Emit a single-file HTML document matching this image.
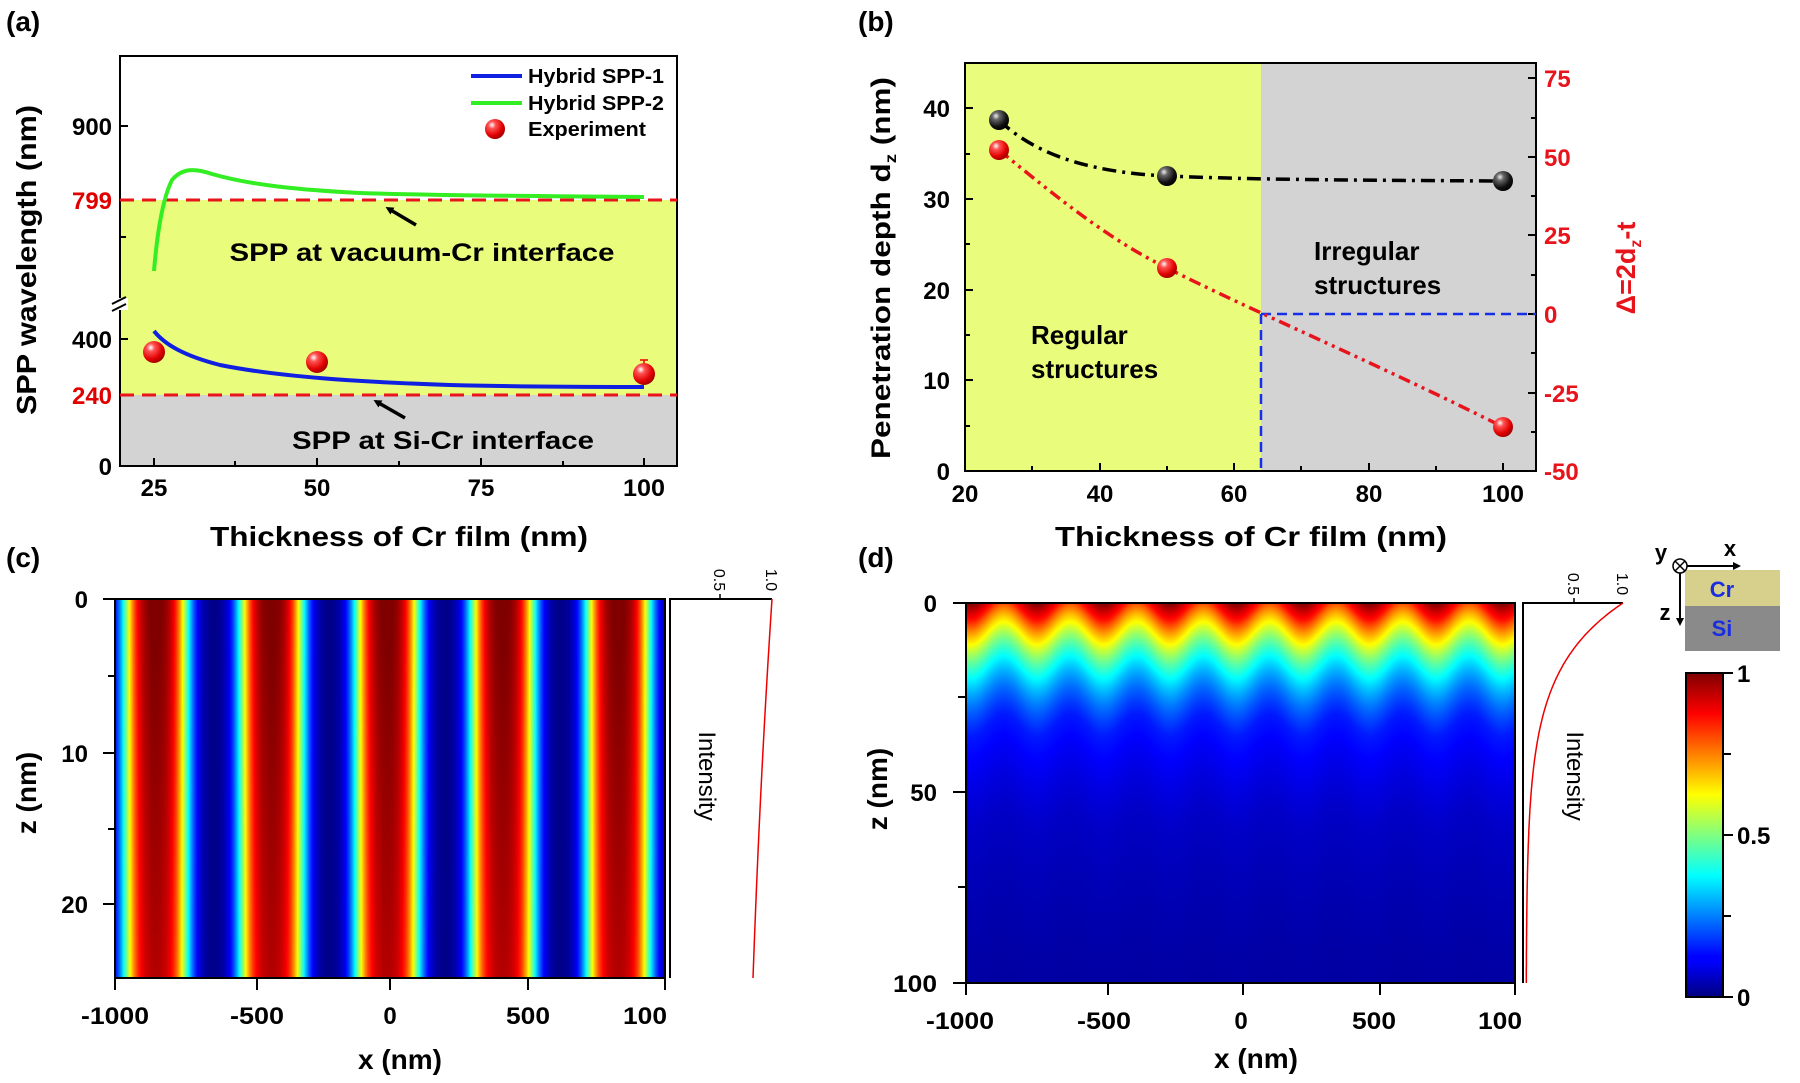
<!DOCTYPE html>
<html><head><meta charset="utf-8"><style>
html,body{margin:0;padding:0;background:#fff}
#w{position:relative;width:1800px;height:1083px;overflow:hidden}
canvas{position:absolute}
svg{position:absolute;left:0;top:0}
text{font-family:"Liberation Sans Narrow","Liberation Sans",sans-serif;font-weight:bold}
.w{font-family:"Liberation Sans",sans-serif}
</style></head><body><div id="w">
<canvas id="c1" width="550" height="379" style="left:115px;top:599px"></canvas>
<canvas id="c2" width="549" height="380" style="left:966px;top:603px"></canvas>
<svg width="1800" height="1083" viewBox="0 0 1800 1083">
<defs>
<radialGradient id="rs" cx="0.35" cy="0.3" r="0.75"><stop offset="0" stop-color="#fff"/><stop offset="0.25" stop-color="#ff5050"/><stop offset="0.7" stop-color="#e00000"/><stop offset="1" stop-color="#900"/></radialGradient>
<radialGradient id="bs" cx="0.35" cy="0.3" r="0.75"><stop offset="0" stop-color="#eee"/><stop offset="0.25" stop-color="#666"/><stop offset="0.7" stop-color="#111"/><stop offset="1" stop-color="#000"/></radialGradient>
<linearGradient id="jet" x1="0" y1="1" x2="0" y2="0">
<stop offset="0" stop-color="#00007f"/><stop offset="0.11" stop-color="#0000ff"/><stop offset="0.125" stop-color="#0000ff"/><stop offset="0.375" stop-color="#00ffff"/><stop offset="0.625" stop-color="#ffff00"/><stop offset="0.875" stop-color="#ff0000"/><stop offset="1" stop-color="#7f0000"/></linearGradient>
<marker id="ah" markerWidth="8" markerHeight="8" refX="4" refY="4" orient="auto" markerUnits="userSpaceOnUse"><path d="M0,0 L8,4 L0,8 z" fill="#000"/></marker>
</defs>

<!-- ===== (a) ===== -->
<text x="6" y="31" font-size="28" class="w">(a)</text>
<rect x="120" y="200" width="557" height="195" fill="#eafc7c"/>
<rect x="120" y="395" width="557" height="71" fill="#d3d3d3"/>
<rect x="120" y="56" width="557" height="410" fill="none" stroke="#000" stroke-width="2"/>
<rect x="112" y="298" width="16" height="12" fill="#fff"/>
<line x1="112" y1="304" x2="126" y2="297" stroke="#000" stroke-width="2"/>
<line x1="112" y1="311" x2="126" y2="304" stroke="#000" stroke-width="2"/>
<g stroke="#000" stroke-width="2">
<line x1="120" y1="126" x2="128" y2="126"/><line x1="120" y1="237" x2="126" y2="237"/>
<line x1="120" y1="339" x2="128" y2="339"/><line x1="120" y1="395" x2="128" y2="395"/>
<line x1="154" y1="466" x2="154" y2="458"/><line x1="317" y1="466" x2="317" y2="458"/><line x1="481" y1="466" x2="481" y2="458"/><line x1="644" y1="466" x2="644" y2="458"/>
<line x1="235" y1="466" x2="235" y2="461"/><line x1="399" y1="466" x2="399" y2="461"/><line x1="563" y1="466" x2="563" y2="461"/>
</g>
<g font-size="24" text-anchor="end">
<text x="112" y="135" textLength="40" lengthAdjust="spacingAndGlyphs">900</text><text x="112" y="209" fill="#e00000" textLength="40" lengthAdjust="spacingAndGlyphs">799</text>
<text x="112" y="348" textLength="40" lengthAdjust="spacingAndGlyphs">400</text><text x="112" y="404" fill="#e00000" textLength="40" lengthAdjust="spacingAndGlyphs">240</text><text x="112" y="475">0</text>
</g>
<g font-size="24" text-anchor="middle">
<text x="154" y="496">25</text><text x="317" y="496">50</text><text x="481" y="496">75</text><text x="644" y="496" textLength="42" lengthAdjust="spacingAndGlyphs">100</text>
</g>
<text transform="translate(36,260) rotate(-90)" font-size="28" text-anchor="middle" class="w" textLength="310" lengthAdjust="spacingAndGlyphs">SPP wavelength (nm)</text>
<text x="399" y="546" font-size="28" text-anchor="middle" textLength="378" lengthAdjust="spacingAndGlyphs">Thickness of Cr film (nm)</text>
<line x1="120" y1="200" x2="677" y2="200" stroke="#e8141c" stroke-width="3" stroke-dasharray="14,8"/>
<line x1="120" y1="395" x2="677" y2="395" stroke="#e8141c" stroke-width="3" stroke-dasharray="14,8"/>
<path d="M154,271 C157,235 162,200 172,180 C182,168 195,168 212,174 C250,185 300,190 360,193 C450,196 550,196 644,197" fill="none" stroke="#33ee22" stroke-width="4"/>
<path d="M154,331 C165,345 185,356 220,365 C280,377 360,382 450,385 C530,387 600,387 644,387" fill="none" stroke="#1020e0" stroke-width="4"/>
<line x1="644" y1="360" x2="644" y2="373" stroke="#e00" stroke-width="1.5"/><line x1="640" y1="360" x2="648" y2="360" stroke="#e00" stroke-width="1.5"/>
<circle cx="154" cy="352" r="11" fill="url(#rs)"/><circle cx="317" cy="362" r="11" fill="url(#rs)"/><circle cx="644" cy="374" r="11" fill="url(#rs)"/>
<line x1="471" y1="76" x2="522" y2="76" stroke="#1020e0" stroke-width="4"/>
<line x1="471" y1="103" x2="522" y2="103" stroke="#33ee22" stroke-width="4"/>
<circle cx="495" cy="129" r="10" fill="url(#rs)"/>
<g font-size="20"><text x="528" y="83" textLength="136" lengthAdjust="spacingAndGlyphs">Hybrid SPP-1</text><text x="528" y="110" textLength="136" lengthAdjust="spacingAndGlyphs">Hybrid SPP-2</text><text x="528" y="136" textLength="118" lengthAdjust="spacingAndGlyphs">Experiment</text></g>
<text x="422" y="261" font-size="25" text-anchor="middle" textLength="385" lengthAdjust="spacingAndGlyphs">SPP at vacuum-Cr interface</text>
<text x="443" y="449" font-size="25" text-anchor="middle" textLength="302" lengthAdjust="spacingAndGlyphs">SPP at Si-Cr interface</text>
<line x1="416" y1="225" x2="389" y2="209" stroke="#000" stroke-width="3.5" marker-end="url(#ah)"/>
<line x1="405" y1="418" x2="377" y2="402" stroke="#000" stroke-width="3.5" marker-end="url(#ah)"/>

<!-- ===== (b) ===== -->
<text x="858" y="31" font-size="28" class="w">(b)</text>
<rect x="965" y="63" width="296" height="408" fill="#eafc7c"/>
<rect x="1261" y="63" width="275" height="408" fill="#d3d3d3"/>
<rect x="965" y="63" width="571" height="408" fill="none" stroke="#000" stroke-width="2"/>
<g stroke="#000" stroke-width="2">
<line x1="965" y1="471" x2="973" y2="471"/><line x1="965" y1="380" x2="973" y2="380"/><line x1="965" y1="290" x2="973" y2="290"/><line x1="965" y1="199" x2="973" y2="199"/><line x1="965" y1="108" x2="973" y2="108"/>
<line x1="965" y1="426" x2="970" y2="426"/><line x1="965" y1="335" x2="970" y2="335"/><line x1="965" y1="244" x2="970" y2="244"/><line x1="965" y1="154" x2="970" y2="154"/>
<line x1="1536" y1="78" x2="1528" y2="78"/><line x1="1536" y1="157" x2="1528" y2="157"/><line x1="1536" y1="235" x2="1528" y2="235"/><line x1="1536" y1="314" x2="1528" y2="314"/><line x1="1536" y1="393" x2="1528" y2="393"/><line x1="1536" y1="471" x2="1528" y2="471"/>
<line x1="1536" y1="118" x2="1531" y2="118"/><line x1="1536" y1="196" x2="1531" y2="196"/><line x1="1536" y1="275" x2="1531" y2="275"/><line x1="1536" y1="353" x2="1531" y2="353"/><line x1="1536" y1="432" x2="1531" y2="432"/>
<line x1="1100" y1="471" x2="1100" y2="463"/><line x1="1234" y1="471" x2="1234" y2="463"/><line x1="1369" y1="471" x2="1369" y2="463"/><line x1="1503" y1="471" x2="1503" y2="463"/>
<line x1="1032" y1="471" x2="1032" y2="466"/><line x1="1167" y1="471" x2="1167" y2="466"/><line x1="1301" y1="471" x2="1301" y2="466"/><line x1="1436" y1="471" x2="1436" y2="466"/>
</g>
<g font-size="24" text-anchor="end">
<text x="950" y="117">40</text><text x="950" y="208">30</text><text x="950" y="299">20</text><text x="950" y="389">10</text><text x="950" y="480">0</text>
</g>
<g font-size="24" fill="#e8141c">
<text x="1544" y="87">75</text><text x="1544" y="166">50</text><text x="1544" y="244">25</text><text x="1544" y="323">0</text><text x="1544" y="402">-25</text><text x="1544" y="480">-50</text>
</g>
<g font-size="24" text-anchor="middle">
<text x="965" y="502">20</text><text x="1100" y="502">40</text><text x="1234" y="502">60</text><text x="1369" y="502">80</text><text x="1503" y="502" textLength="42" lengthAdjust="spacingAndGlyphs">100</text>
</g>
<text transform="translate(890,268) rotate(-90)" font-size="27" text-anchor="middle" class="w" textLength="382" lengthAdjust="spacingAndGlyphs">Penetration depth d<tspan font-size="16" dy="6">z</tspan><tspan dy="-6"> (nm)</tspan></text>
<text transform="translate(1635,268) rotate(-90)" font-size="27" text-anchor="middle" fill="#e8141c" class="w">Δ=2d<tspan font-size="16" dy="6">z</tspan><tspan dy="-6">-t</tspan></text>
<text x="1251" y="546" font-size="28" text-anchor="middle" textLength="392" lengthAdjust="spacingAndGlyphs">Thickness of Cr film (nm)</text>
<text x="1314" y="260" font-size="26">Irregular</text><text x="1314" y="294" font-size="26">structures</text>
<text x="1031" y="344" font-size="26">Regular</text><text x="1031" y="378" font-size="26">structures</text>
<line x1="1261" y1="314" x2="1536" y2="314" stroke="#1530e8" stroke-width="2.5" stroke-dasharray="10,6"/>
<line x1="1261" y1="314" x2="1261" y2="471" stroke="#1530e8" stroke-width="2.5" stroke-dasharray="10,6"/>
<path d="M999,120 C1030,150 1080,172 1167,176 C1240,179 1300,180 1503,181" fill="none" stroke="#000" stroke-width="3.5" stroke-dasharray="14,6,3,6"/>
<path d="M999,150 C1060,200 1110,240 1167,268 C1250,310 1380,365 1503,427" fill="none" stroke="#e8141c" stroke-width="3.5" stroke-dasharray="12,5,3,5,3,5"/>
<circle cx="999" cy="120" r="10" fill="url(#bs)"/><circle cx="1167" cy="176" r="10" fill="url(#bs)"/><circle cx="1503" cy="181" r="10" fill="url(#bs)"/>
<circle cx="999" cy="150" r="10" fill="url(#rs)"/><circle cx="1167" cy="268" r="10" fill="url(#rs)"/><circle cx="1503" cy="427" r="10" fill="url(#rs)"/>

<!-- ===== (c) ===== -->
<text x="6" y="567" font-size="28" class="w">(c)</text>
<rect x="115" y="599" width="550" height="379" fill="none" stroke="#000" stroke-width="2"/>
<g stroke="#000" stroke-width="2">
<line x1="103" y1="599" x2="115" y2="599"/><line x1="103" y1="753" x2="115" y2="753"/><line x1="103" y1="904" x2="115" y2="904"/>
<line x1="108" y1="676" x2="115" y2="676"/><line x1="108" y1="829" x2="115" y2="829"/>
<line x1="115" y1="978" x2="115" y2="990"/><line x1="257" y1="978" x2="257" y2="990"/><line x1="390" y1="978" x2="390" y2="990"/><line x1="528" y1="978" x2="528" y2="990"/><line x1="665" y1="978" x2="665" y2="990"/>
</g>
<g font-size="24" text-anchor="end"><text x="88" y="608">0</text><text x="88" y="762">10</text><text x="88" y="913">20</text></g>
<g font-size="24" text-anchor="middle"><text x="115" y="1024" textLength="68" lengthAdjust="spacingAndGlyphs">-1000</text><text x="257" y="1024" textLength="54" lengthAdjust="spacingAndGlyphs">-500</text><text x="390" y="1024">0</text><text x="528" y="1024" textLength="44" lengthAdjust="spacingAndGlyphs">500</text><text x="645" y="1024" textLength="44" lengthAdjust="spacingAndGlyphs">100</text></g>
<text transform="translate(36,793) rotate(-90)" font-size="28" text-anchor="middle" class="w">z (nm)</text>
<text x="400" y="1069" font-size="28" text-anchor="middle">x (nm)</text>
<polyline points="772,599 670,599 670,978" fill="none" stroke="#000" stroke-width="2"/>
<line x1="720" y1="599" x2="720" y2="594" stroke="#000" stroke-width="1.5"/>
<text transform="translate(714,580) rotate(90)" font-size="16" text-anchor="middle" class="w" style="font-weight:normal">0.5</text>
<text transform="translate(766,580) rotate(90)" font-size="16" text-anchor="middle" class="w" style="font-weight:normal">1.0</text>
<path d="M772,599 Q760,780 753,978" fill="none" stroke="#e00" stroke-width="1.5"/>
<text transform="translate(699,776) rotate(90)" font-size="24" text-anchor="middle" class="w" style="font-weight:normal">Intensity</text>

<!-- ===== (d) ===== -->
<text x="858" y="567" font-size="28" class="w">(d)</text>
<rect x="966" y="603" width="549" height="380" fill="none" stroke="#000" stroke-width="2"/>
<g stroke="#000" stroke-width="2">
<line x1="953" y1="603" x2="966" y2="603"/><line x1="953" y1="792" x2="966" y2="792"/><line x1="953" y1="983" x2="966" y2="983"/>
<line x1="958" y1="697" x2="966" y2="697"/><line x1="958" y1="887" x2="966" y2="887"/>
<line x1="966" y1="983" x2="966" y2="995"/><line x1="1108" y1="983" x2="1108" y2="995"/><line x1="1243" y1="983" x2="1243" y2="995"/><line x1="1380" y1="983" x2="1380" y2="995"/><line x1="1515" y1="983" x2="1515" y2="995"/>
</g>
<g font-size="24" text-anchor="end"><text x="937" y="612">0</text><text x="937" y="801">50</text><text x="937" y="992" textLength="44" lengthAdjust="spacingAndGlyphs">100</text></g>
<g font-size="24" text-anchor="middle"><text x="960" y="1029" textLength="68" lengthAdjust="spacingAndGlyphs">-1000</text><text x="1104" y="1029" textLength="54" lengthAdjust="spacingAndGlyphs">-500</text><text x="1241" y="1029">0</text><text x="1374" y="1029" textLength="44" lengthAdjust="spacingAndGlyphs">500</text><text x="1500" y="1029" textLength="44" lengthAdjust="spacingAndGlyphs">100</text></g>
<text transform="translate(887,789) rotate(-90)" font-size="28" text-anchor="middle" class="w">z (nm)</text>
<text x="1256" y="1068" font-size="28" text-anchor="middle">x (nm)</text>
<polyline points="1623,603 1523,603 1523,983" fill="none" stroke="#000" stroke-width="2"/>
<line x1="1574" y1="603" x2="1574" y2="598" stroke="#000" stroke-width="1.5"/>
<text transform="translate(1568,584) rotate(90)" font-size="16" text-anchor="middle" class="w" style="font-weight:normal">0.5</text>
<text transform="translate(1617,584) rotate(90)" font-size="16" text-anchor="middle" class="w" style="font-weight:normal">1.0</text>
<path id="dcurve" d="" fill="none" stroke="#e00" stroke-width="1.5"/>
<text transform="translate(1567,776) rotate(90)" font-size="24" text-anchor="middle" class="w" style="font-weight:normal">Intensity</text>

<!-- inset -->
<rect x="1685" y="570" width="95" height="36" fill="#d6d08c"/>
<rect x="1685" y="606" width="95" height="45" fill="#8a8a8a"/>
<text x="1722" y="597" font-size="22" text-anchor="middle" fill="#1a2ee0">Cr</text>
<text x="1722" y="636" font-size="22" text-anchor="middle" fill="#1a2ee0">Si</text>
<circle cx="1680" cy="566" r="7" fill="#fff" stroke="#000" stroke-width="1.5"/>
<path d="M1675,561 L1685,571 M1685,561 L1675,571" stroke="#000" stroke-width="1.5"/>
<line x1="1687" y1="566" x2="1737" y2="566" stroke="#000" stroke-width="2" marker-end="url(#ah)"/>
<line x1="1680" y1="573" x2="1680" y2="622" stroke="#000" stroke-width="2" marker-end="url(#ah)"/>
<text x="1730" y="556" font-size="22" text-anchor="middle" class="w">x</text>
<text x="1661" y="560" font-size="22" text-anchor="middle" class="w">y</text>
<text x="1665" y="620" font-size="22" text-anchor="middle" class="w">z</text>
<!-- colorbar -->
<rect x="1686" y="673" width="37" height="324" fill="url(#jet)" stroke="#000" stroke-width="2"/>
<g stroke="#000" stroke-width="2"><line x1="1723" y1="673" x2="1733" y2="673"/><line x1="1723" y1="754" x2="1731" y2="754"/><line x1="1723" y1="835" x2="1733" y2="835"/><line x1="1723" y1="916" x2="1731" y2="916"/><line x1="1723" y1="997" x2="1733" y2="997"/></g>
<g font-size="24"><text x="1737" y="682">1</text><text x="1737" y="844">0.5</text><text x="1737" y="1006">0</text></g>
</svg>
</div>
<script>
function jet(t){t=Math.max(0,Math.min(1,t));function c(v){return Math.max(0,Math.min(1,v));}
return [c(1.5-Math.abs(4*t-3))*255,c(1.5-Math.abs(4*t-2))*255,c(1.5-Math.abs(4*t-1))*255];}
(function(){var cv=document.getElementById('c1'),ctx=cv.getContext('2d'),W=cv.width,H=cv.height,im=ctx.createImageData(W,H);
var k=1.3,n=Math.tanh(k);
for(var x=0;x<W;x++){var px=115+x;var c=Math.cos(2*Math.PI*(px-155.5)/115.6);var I=0.5+0.5*Math.tanh(k*(c+0.05))/n;
for(var y=0;y<H;y++){var v=I*(1-0.06*y/H);var col=jet(v);var i=(y*W+x)*4;im.data[i]=col[0];im.data[i+1]=col[1];im.data[i+2]=col[2];im.data[i+3]=255;}}
ctx.putImageData(im,0,0);})();
var UZ=[0,4.7,11,21,35,60,100,120],UV=[1,0.85,0.62,0.35,0.15,0.07,0.035,0.03];
function U(z){for(var i=0;i<UZ.length-1;i++){if(z<=UZ[i+1]){var f=(z-UZ[i])/(UZ[i+1]-UZ[i]);return Math.exp(Math.log(UV[i])*(1-f)+Math.log(UV[i+1])*f);}}return 0.03;}
(function(){var cv=document.getElementById('c2'),ctx=cv.getContext('2d'),W=cv.width,H=cv.height,im=ctx.createImageData(W,H);
for(var x=0;x<W;x++){var px=966+x;var c=Math.cos(2*Math.PI*(px-970)/66.5);var s=6*(1-c)/2;
for(var y=0;y<H;y++){var z=y/3.8;var v=U(z+s);var col=jet(v);var i=(y*W+x)*4;im.data[i]=col[0];im.data[i+1]=col[1];im.data[i+2]=col[2];im.data[i+3]=255;}}
ctx.putImageData(im,0,0);
var d='';for(var z=0;z<=100;z+=0.5){var v=0.97*Math.exp(-z/17)+0.03;d+=(z?'L':'M')+(1523+100*v).toFixed(1)+','+(603+3.8*z).toFixed(1);}
document.getElementById('dcurve').setAttribute('d',d);})();
</script>
</body></html>
